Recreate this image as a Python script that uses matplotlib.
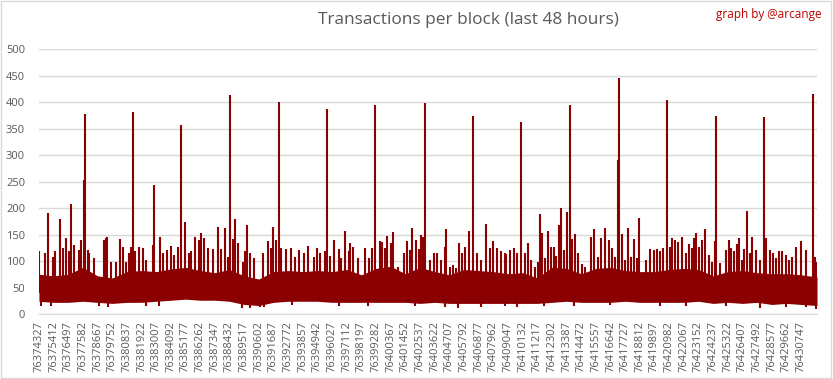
# Transactions per block (last 48 hours)
# graph by @arcange - recreacion con matplotlib

import matplotlib.pyplot as plt
from matplotlib.patches import Rectangle

# Datos

first_block = 76374327
last_block = 76431927

tick_blocks = [76374327, 76375412, 76376497, 76377582, 76378667, 76379752,
               76380837, 76381922, 76383007, 76384092, 76385177, 76386262,
               76387347, 76388432, 76389517, 76390602, 76391687, 76392772,
               76393857, 76394942, 76396027, 76397112, 76398197, 76399282,
               76400367, 76401452, 76402537, 76403622, 76404707, 76405792,
               76406877, 76407962, 76409047, 76410132, 76411217, 76412302,
               76413387, 76414472, 76415557, 76416642, 76417727, 76418812,
               76419897, 76420982, 76422067, 76423152, 76424237, 76425322,
               76426407, 76427492, 76428577, 76429662, 76430747]

# banda densa (parte alta / parte baja) en cada etiqueta + ultimo bloque
band_top = [75, 72, 75, 88, 72, 68, 80, 82, 80, 85, 88,
            82, 78, 84, 72, 66, 80, 82, 80, 82, 80, 84,
            74, 86, 90, 76, 88, 80, 74, 84, 82, 80,
            76, 78, 68, 88, 86, 76, 86, 88, 82, 80, 80,
            84, 86, 84, 72, 80, 82, 78, 76, 76, 74, 70]
band_bottom = [24, 22, 22, 24, 22, 20, 22, 22, 24, 26, 28,
               26, 26, 24, 18, 16, 22, 24, 24, 24, 22, 22,
               22, 22, 22, 22, 20, 22, 20, 20, 20, 20,
               20, 20, 20, 22, 24, 22, 22, 22, 24, 22, 22,
               22, 22, 24, 20, 22, 20, 22, 18, 20, 18, 16]

# picos (desplazamiento desde el primer bloque, transacciones)
spike_offset = [25, 444, 691, 1011, 1209, 1579, 1752, 2023, 2196, 2393,
                2615, 2936, 3108, 3306, 3380, 3602, 3725, 4095, 4786, 4934,
                5057, 5329, 5699, 5995, 6242, 6439, 6636, 6809, 6932, 7080,
                7426, 7672, 7919, 8462, 8536, 8980, 9202, 9473, 9794, 10016,
                10287, 10534, 10830, 11077, 11274, 11570,
                11817, 12014, 12187, 12483, 12853, 13223, 13494, 13791, 13988, 14161,
                14333, 14531, 14728, 15073, 15271, 15419, 15641, 15887, 16554, 16924,
                17195, 17343, 17540, 17738, 17935, 18305, 18651, 18972, 19218, 19588,
                19909, 20328, 20575, 20821, 21142, 21340, 21562, 21833, 22178, 22376,
                22672, 22918,
                22992, 23239, 23609, 24103, 24399, 24670, 24892, 25213, 25385, 25583,
                25780, 26027, 26224, 26570, 27014, 27236, 27433, 27630, 27877, 28099,
                28272, 28445, 28543, 28913, 29234, 29481, 29777, 30023, 30147, 30393,
                30615, 30887, 31109, 31306, 31553, 31849, 32145, 32392, 32737, 33107,
                33379, 33625, 33921, 34168, 34464,
                34612, 34908, 35204, 35401, 35697, 35993, 36216, 36438, 36758, 36956,
                37128, 37252, 37498, 37720, 37918, 38115, 38288, 38510, 38658, 38855,
                39102, 39324, 39497, 39694, 39891, 40212, 40459, 40878, 41125, 41372,
                41643, 41939, 42186, 42432, 42679, 42877, 42950, 43173, 43419, 43641,
                43863, 44085, 44283, 44431, 44974, 45269, 45516, 45763, 46009, 46207,
                46503, 46700, 46898, 47095, 47317, 47613, 47934, 48131, 48329, 48501,
                48674, 48847, 49093, 49340, 49611, 49858, 50055, 50129, 50401, 50894,
                51091, 51264, 51486, 51659, 51832, 52054, 52226, 52424, 52621, 52819,
                53115, 53361, 53707, 53855, 54101, 54348, 54595, 54792, 55039, 55285,
                55532, 55779, 56075, 56445, 56766, 57308, 57432, 57600]
spike_value = [118, 115, 190, 108, 118, 179, 124, 143, 118, 208,
               130, 121, 140, 253, 378, 121, 115, 105, 140, 143,
               145, 99, 99, 141, 127, 99, 115, 127, 382, 118,
               126, 124, 102, 130, 244, 146, 115, 121, 128, 112,
               127, 357, 173, 115, 118, 145,
               140, 152, 143, 124, 122, 164, 122, 162, 108, 414,
               141, 179, 134, 99, 118, 168, 115, 105, 115, 137,
               124, 164, 140, 401, 124, 122, 124, 108, 120, 115,
               128, 108, 124, 115, 118, 386, 110, 140, 122, 105,
               157, 118,
               134, 126, 105, 124, 105, 124, 394, 137, 135, 124,
               147, 134, 154, 89, 115, 137, 121, 162, 140, 123,
               149, 145, 398, 102, 115, 115, 102, 127, 160, 89,
               93, 86, 134, 115, 126, 156, 373, 116, 102, 170,
               124, 138, 124, 118, 115,
               113, 120, 124, 115, 362, 115, 134, 102, 89, 99,
               189, 152, 105, 157, 127, 126, 110, 168, 200, 121,
               193, 394, 141, 151, 116, 94, 89, 145, 160, 108,
               143, 162, 140, 124, 108, 291, 445, 151, 102, 162,
               108, 141, 105, 181, 102, 122, 121, 122, 118, 124,
               403, 126, 143, 140, 135, 145, 115, 132, 124, 143,
               152, 127, 140, 160, 112, 99, 137, 373, 96, 120,
               140, 124, 118, 132, 143, 102, 122, 195, 115, 146,
               121, 102, 372, 143, 121, 115, 105, 118, 118, 112,
               102, 108, 127, 137, 120, 415, 108, 99]

# minimos (bloques con muy pocas transacciones)
dip_offset = [148, 888, 4465, 5082, 7919, 8906, 15024, 15641, 16381, 16628,
              18724, 22178, 24350, 27803, 30023, 31010, 32737, 34464, 35401,
              37375, 39595, 42309, 46009, 47934, 50894, 53361, 55335, 56815, 57555]
dip_value = [16, 15, 15, 14, 16, 15, 12, 12, 13, 14,
             17, 16, 16, 15, 13, 11, 14, 15, 14,
             16, 16, 17, 15, 16, 15, 12, 14, 14, 9]

# Grafica

plt.rcParams['font.family'] = ['Open Sans', 'DejaVu Sans']

rojo = '#8B0000'
gris = '#595959'
rejilla = '#D9D9D9'

fig = plt.figure(figsize=(8.33, 3.79), dpi=100)
ax = fig.add_axes([0.0468, 0.1715, 0.934, 0.699])

band_x = tick_blocks + [last_block]
ax.fill_between(band_x, band_bottom, band_top, color=rojo, lw=0)

spike_x = [first_block + o for o in spike_offset]
ax.vlines(spike_x, 40, spike_value, color=rojo, lw=1.5)

dip_x = [first_block + o for o in dip_offset]
ax.vlines(dip_x, dip_value, 40, color=rojo, lw=1.5)

ax.set_xlim(first_block, last_block)
ax.set_ylim(0, 500)
ax.set_yticks(range(0, 501, 50))
ax.set_xticks(tick_blocks)
ax.set_xticklabels([str(b) for b in tick_blocks], rotation=90)
ax.tick_params(axis='both', length=0, labelsize=8, labelcolor=gris)
ax.tick_params(axis='y', pad=10)
ax.tick_params(axis='x', pad=5)

ax.grid(axis='y', color=rejilla, lw=1)
ax.set_axisbelow(True)
for lado in ['top', 'right', 'left']:
    ax.spines[lado].set_visible(False)
ax.spines['bottom'].set_color(rejilla)

fig.text(0.562, 0.947, 'Transactions per block (last 48 hours)',
         ha='center', va='center', fontsize=12.4, color=gris)
fig.text(0.986, 0.963, 'graph by @arcange', ha='right', va='center',
         fontsize=8.5, color='#C00000')

fig.patches.append(Rectangle((0.001, 0.002), 0.997, 0.995, transform=fig.transFigure,
                             fill=False, edgecolor=rejilla, lw=1))

fig.savefig('out.png', dpi=100)
